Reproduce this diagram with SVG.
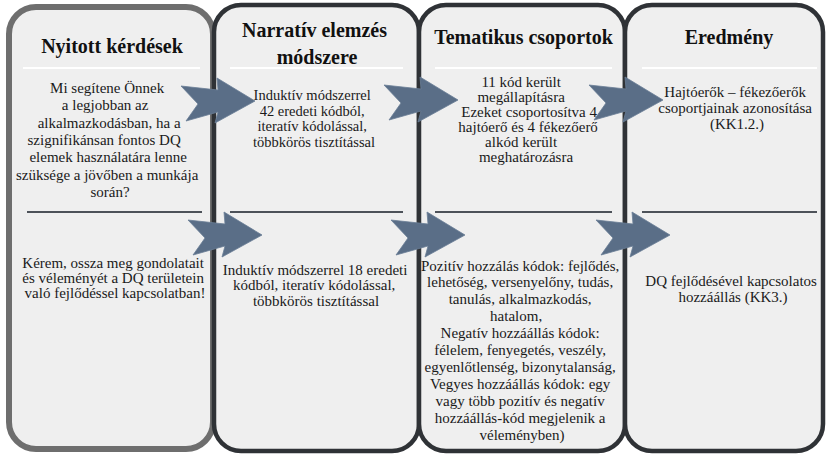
<svg xmlns="http://www.w3.org/2000/svg" xmlns:xlink="http://www.w3.org/1999/xlink" width="827" height="455" viewBox="0 0 827 455">
  <style>
    .col { fill: #efefef; stroke: #2f3236; stroke-width: 4.5; }
    .col1 { fill: #efefef; stroke: #6e6e6e; stroke-width: 6; }
    .head { font-family: "Liberation Serif", "Times New Roman", serif; font-weight: bold; font-size: 20px; fill: #111; text-anchor: middle; }
    .body { font-family: "Liberation Serif", "Times New Roman", serif; font-size: 15px; fill: #1a1a1a; text-anchor: middle; }
    .sepw { stroke: #ffffff; stroke-width: 2; }
    .sepd { stroke: #4d5259; stroke-width: 2; }
    .arr { fill: #5a6e87; stroke: #6a7d95; stroke-width: 0.8; stroke-linejoin: miter; }
  </style>
  <defs>
    <!-- notched block arrow, tip at the origin -->
    <path id="arrow" d="M -74,-15 L -37,-11 L -38,-23 L 0,0 L -40,22 L -37,11 L -69,20 L -57,3 Z"/>
  </defs>

  <rect width="827" height="455" fill="#ffffff"/>

  <!-- column 1 -->
  <g id="col-nyitott">
    <rect class="col1" x="9" y="7" width="204" height="442" rx="27" ry="27"/>
    <text class="head" x="112" y="53">Nyitott kérdések</text>
    <line class="sepw" x1="23" y1="68" x2="200" y2="68"/>
    <text class="body">
      <tspan x="109" y="93">Mi segítene Önnek</tspan>
      <tspan x="107" y="110.3">a legjobban az</tspan>
      <tspan x="111" y="127.6">alkalmazkodásban, ha a</tspan>
      <tspan x="106" y="144.9">szignifikánsan fontos DQ</tspan>
      <tspan x="110" y="162.2">elemek használatára lenne</tspan>
      <tspan x="109" y="179.5">szüksége a jövőben a munkája</tspan>
      <tspan x="110" y="196.8">során?</tspan>
    </text>
    <line class="sepd" x1="27" y1="212" x2="202" y2="212" stroke="#555"/>
    <text class="body">
      <tspan x="115" y="267.5">Kérem, ossza meg gondolatait</tspan>
      <tspan x="115" y="282.5">és véleményét a DQ területein</tspan>
      <tspan x="115" y="297.5">való fejlődéssel kapcsolatban!</tspan>
    </text>
  </g>

  <!-- column 2 -->
  <g id="col-narrativ">
    <rect class="col" x="214" y="5" width="205" height="446" rx="27" ry="27"/>
    <text class="head">
      <tspan x="317" y="37">Narratív elemzés</tspan>
      <tspan x="317" y="64">módszere</tspan>
    </text>
    <line class="sepw" x1="230" y1="68" x2="403" y2="68"/>
    <text class="body" style="font-size:14.5px">
      <tspan x="314" y="100">Induktív módszerrel</tspan>
      <tspan x="314" y="115.5">42 eredeti kódból,</tspan>
      <tspan x="314" y="131">iteratív kódolással,</tspan>
      <tspan x="314" y="146.5">többkörös tisztítással</tspan>
    </text>
    <line class="sepd" x1="230" y1="212" x2="403" y2="212"/>
    <text class="body">
      <tspan x="317" y="274.5">Induktív módszerrel 18 eredeti</tspan>
      <tspan x="316" y="290">kódból, iteratív kódolással,</tspan>
      <tspan x="316" y="305.5">többkörös tisztítással</tspan>
    </text>
  </g>

  <!-- column 3 -->
  <g id="col-tematikus">
    <rect class="col" x="419" y="5" width="206" height="446" rx="27" ry="27"/>
    <text class="head" x="523.5" y="44">Tematikus csoportok</text>
    <line class="sepw" x1="435" y1="68" x2="612" y2="68"/>
    <text class="body">
      <tspan x="523" y="87">11 kód került</tspan>
      <tspan x="523" y="102">megállapításra</tspan>
      <tspan x="531" y="117">Ezeket csoportosítva 4</tspan>
      <tspan x="530" y="132">hajtóerő és 4 fékezőerő</tspan>
      <tspan x="523" y="147">alkód került</tspan>
      <tspan x="526" y="162">meghatározásra</tspan>
    </text>
    <line class="sepd" x1="435" y1="212" x2="612" y2="212"/>
    <text class="body">
      <tspan x="522" y="270.5">Pozitív hozzálás kódok: fejlődés,</tspan>
      <tspan x="522" y="287.4">lehetőség, versenyelőny, tudás,</tspan>
      <tspan x="522" y="304.3">tanulás, alkalmazkodás,</tspan>
      <tspan x="518" y="321.2">hatalom,</tspan>
      <tspan x="522" y="338.1">Negatív hozzáállás kódok:</tspan>
      <tspan x="522" y="355">félelem, fenyegetés, veszély,</tspan>
      <tspan x="522" y="371.9">egyenlőtlenség, bizonytalanság,</tspan>
      <tspan x="522" y="388.8">Vegyes hozzáállás kódok: egy</tspan>
      <tspan x="522" y="405.7">vagy több pozitív és negatív</tspan>
      <tspan x="522" y="422.6">hozzáállás-kód megjelenik a</tspan>
      <tspan x="522" y="439.5">véleményben)</tspan>
    </text>
  </g>

  <!-- column 4 -->
  <g id="col-eredmeny">
    <rect class="col" x="625" y="5" width="198" height="446" rx="27" ry="27"/>
    <text class="head" x="729" y="43.5">Eredmény</text>
    <line class="sepw" x1="642" y1="68" x2="817" y2="68"/>
    <text class="body">
      <tspan x="737" y="97">Hajtóerők – fékezőerők</tspan>
      <tspan x="737" y="113">csoportjainak azonosítása</tspan>
      <tspan x="737" y="129">(KK1.2.)</tspan>
    </text>
    <line class="sepd" x1="642" y1="212" x2="817" y2="212"/>
    <text class="body">
      <tspan x="733" y="286">DQ fejlődésével kapcsolatos</tspan>
      <tspan x="733" y="302">hozzáállás (KK3.)</tspan>
    </text>
  </g>

  <!-- flow arrows between the columns -->
  <g id="connectors" class="arr">
    <use xlink:href="#arrow" x="255" y="101"/>
    <use xlink:href="#arrow" x="458" y="100"/>
    <use xlink:href="#arrow" x="663" y="100"/>
    <use xlink:href="#arrow" x="262" y="235"/>
    <use xlink:href="#arrow" x="465" y="235"/>
    <use xlink:href="#arrow" x="670" y="235"/>
  </g>
</svg>
